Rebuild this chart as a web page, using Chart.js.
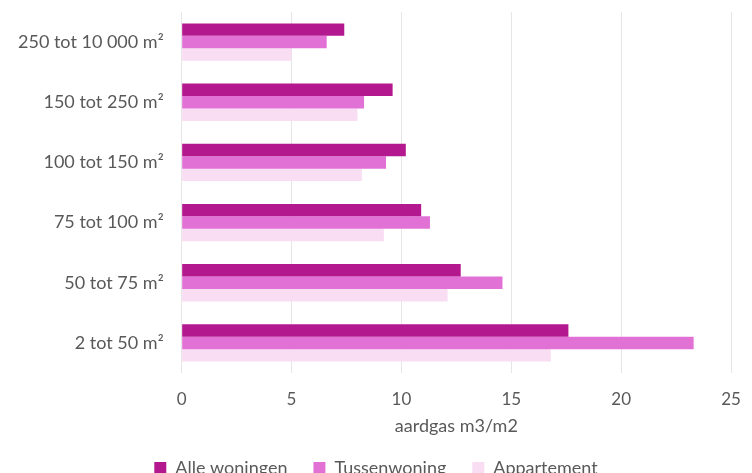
<!DOCTYPE html>
<html>
<head>
<meta charset="utf-8">
<script src="https://cdn.jsdelivr.net/npm/chart.js@4/dist/chart.umd.min.js"></script>
<style>
  html, body { margin: 0; padding: 0; background: #fff; overflow: hidden; }
  #wrap { position: relative; width: 752px; height: 487px; }
</style>
</head>
<body>
<div id="wrap"><canvas id="c"></canvas></div>
<script>
// Oppervlakteklassen (woonoppervlak)
const categories = ['250 tot 10 000 m²', '150 tot 250 m²', '100 tot 150 m²', '75 tot 100 m²', '50 tot 75 m²', '2 tot 50 m²'];

// Gasverbruik per m² woonoppervlak
const alleWoningen = [7.4, 9.6, 10.2, 10.9, 12.7, 17.6];
const tussenwoning = [6.6, 8.3, 9.3, 11.3, 14.6, 23.3];
const appartement  = [5.0, 8.0, 8.2, 9.2, 12.1, 16.8];

const seriesNames = ['Alle woningen', 'Tussenwoning', 'Appartement'];
const xTicks = [0, 5, 10, 15, 20, 25];
const axisTitle = 'aardgas m3/m2';

const colors = ['#B3188F', '#E271D6', '#F8DDF3'];
const textColor = '#595959';
const font = 'Lato, "Open Sans", sans-serif';

new Chart(document.getElementById('c'), {
  type: 'bar',
  data: {
    labels: categories,
    datasets: [alleWoningen, tussenwoning, appartement].map((d, i) => ({
      label: seriesNames[i],
      data: d,
      backgroundColor: colors[i],
      borderWidth: 0,
      categoryPercentage: 0.62,
      barPercentage: 1.0
    }))
  },
  options: {
    indexAxis: 'y',
    responsive: true,
    maintainAspectRatio: false,
    animation: false,
    layout: { padding: { left: 0, right: 0, top: 12, bottom: 0 } },
    scales: {
      x: {
        min: 0, max: 25,
        afterBuildTicks: (s) => { s.ticks = xTicks.map(v => ({ value: v })); },
        afterFit: (s) => { s.height = 60; s.paddingLeft = 0; s.paddingRight = 21; },
        grid: { color: '#E6E6E6', lineWidth: 1, drawTicks: false },
        border: { display: false },
        ticks: { color: textColor, font: { family: font, size: 17 }, padding: 16 },
        title: { display: true, text: axisTitle, color: textColor, font: { family: font, size: 18 }, padding: { top: 0, bottom: -4 } }
      },
      y: {
        afterFit: (s) => { s.paddingTop = 0; s.paddingBottom = 0; },
        grid: { display: false, drawTicks: false },
        border: { display: false },
        ticks: { color: textColor, font: { family: font, size: 18 }, padding: 18 }
      }
    },
    plugins: {
      legend: {
        position: 'bottom',
        labels: { color: textColor, font: { family: font, size: 18 }, boxWidth: 12, boxHeight: 12, padding: 26 }
      },
      tooltip: { enabled: false }
    }
  }
});
</script>
</body>
</html>
